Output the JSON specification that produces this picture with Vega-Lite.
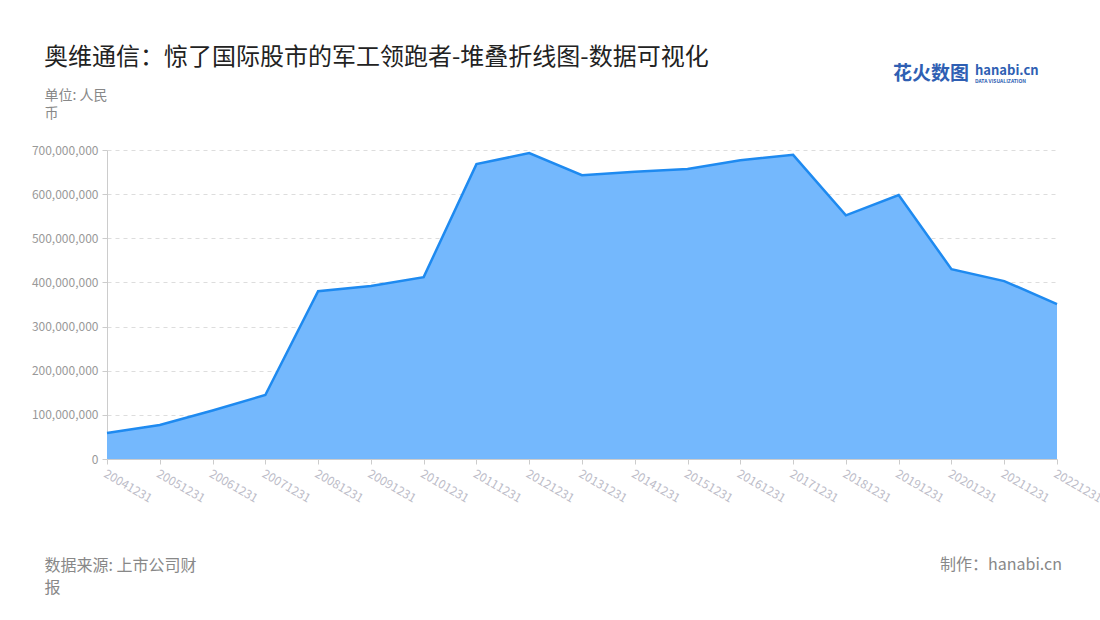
{
  "$schema": "https://vega.github.io/schema/vega-lite/v6.json",
  "width": 950,
  "height": 309,
  "autosize": {"type": "none"},
  "padding": {"left": 107, "top": 150, "right": 43, "bottom": 161},
  "background": "white",
  "config": {
    "font": "Noto Sans CJK SC",
    "view": {"stroke": null}
  },
  "title": {
    "text": "奥维通信：惊了国际股市的军工领跑者-堆叠折线图-数据可视化",
    "fontSize": 24,
    "fontWeight": "normal",
    "color": "#222222",
    "anchor": "start",
    "frame": "group",
    "dx": -63,
    "offset": -5
  },
  "data": {
    "values": [
      {"date": "20041231", "value": 59000000},
      {"date": "20051231", "value": 77000000},
      {"date": "20061231", "value": 110000000},
      {"date": "20071231", "value": 145000000},
      {"date": "20081231", "value": 380000000},
      {"date": "20091231", "value": 392000000},
      {"date": "20101231", "value": 412000000},
      {"date": "20111231", "value": 668000000},
      {"date": "20121231", "value": 693000000},
      {"date": "20131231", "value": 643000000},
      {"date": "20141231", "value": 651000000},
      {"date": "20151231", "value": 657000000},
      {"date": "20161231", "value": 677000000},
      {"date": "20171231", "value": 689000000},
      {"date": "20181231", "value": 552000000},
      {"date": "20191231", "value": 598000000},
      {"date": "20201231", "value": 430000000},
      {"date": "20211231", "value": 403000000},
      {"date": "20221231", "value": 351000000}
    ]
  },
  "encoding": {
    "x": {
      "field": "date",
      "type": "ordinal",
      "sort": null,
      "scale": {"type": "point", "padding": 0},
      "axis": {
        "title": ["数据来源: 上市公司财", "报"],
        "titleFontSize": 16,
        "titleFontWeight": "normal",
        "titleColor": "#888888",
        "titleAnchor": "start",
        "titleAlign": "left",
        "titleBaseline": "top",
        "titleX": -63,
        "titleY": 98,
        "titleLineHeight": 22,
        "labelAngle": 30,
        "labelAlign": "left",
        "labelBaseline": "top",
        "labelFontSize": 12,
        "labelColor": "#bcbcc8",
        "labelPadding": 4,
        "domainColor": "#cccccc",
        "tickColor": "#cccccc",
        "tickSize": 5,
        "grid": false
      }
    },
    "y": {
      "field": "value",
      "type": "quantitative",
      "scale": {"domain": [0, 700000000]},
      "axis": {
        "title": ["单位: 人民", "币"],
        "titleFontSize": 14,
        "titleFontWeight": "normal",
        "titleColor": "#888888",
        "titleAngle": 0,
        "titleAlign": "left",
        "titleBaseline": "top",
        "titleX": -63,
        "titleY": -62,
        "titleLineHeight": 18,
        "tickCount": 7,
        "format": ",d",
        "labelFontSize": 12,
        "labelColor": "#999999",
        "labelPadding": 4,
        "domainColor": "#cccccc",
        "tickColor": "#cccccc",
        "tickSize": 5,
        "gridColor": "#dddddd",
        "gridDash": [4, 4]
      }
    }
  },
  "layer": [
    {
      "mark": {"type": "area", "color": "#74b8fd", "opacity": 1, "line": {"color": "#1e8af0", "strokeWidth": 2.5}}
    },
    {
      "transform": [{"filter": "datum.date == '20221231'"}],
      "mark": {"type": "text", "text": "制作：hanabi.cn", "fontSize": 16, "color": "#888888", "align": "right", "baseline": "top", "dx": 5, "dy": 98},
      "encoding": {"x": {"datum": "20221231"}, "y": {"datum": 0}}
    },
    {
      "transform": [{"filter": "datum.date == '20221231'"}],
      "mark": {"type": "text", "text": "花火数图", "fontSize": 19, "fontWeight": "bold", "color": "#2f5fb3", "align": "left", "baseline": "middle", "dx": -164, "dy": -76},
      "encoding": {"x": {"datum": "20221231"}, "y": {"datum": 700000000}}
    },
    {
      "transform": [{"filter": "datum.date == '20221231'"}],
      "mark": {"type": "text", "text": "hanabi.cn", "fontSize": 13, "fontWeight": "bold", "color": "#2f5fb3", "align": "left", "baseline": "middle", "dx": -82, "dy": -79},
      "encoding": {"x": {"datum": "20221231"}, "y": {"datum": 700000000}}
    },
    {
      "transform": [{"filter": "datum.date == '20221231'"}],
      "mark": {"type": "text", "text": "DATA VISUALIZATION", "fontSize": 5, "fontWeight": "bold", "color": "#2f5fb3", "align": "left", "baseline": "middle", "dx": -82, "dy": -69},
      "encoding": {"x": {"datum": "20221231"}, "y": {"datum": 700000000}}
    }
  ]
}
